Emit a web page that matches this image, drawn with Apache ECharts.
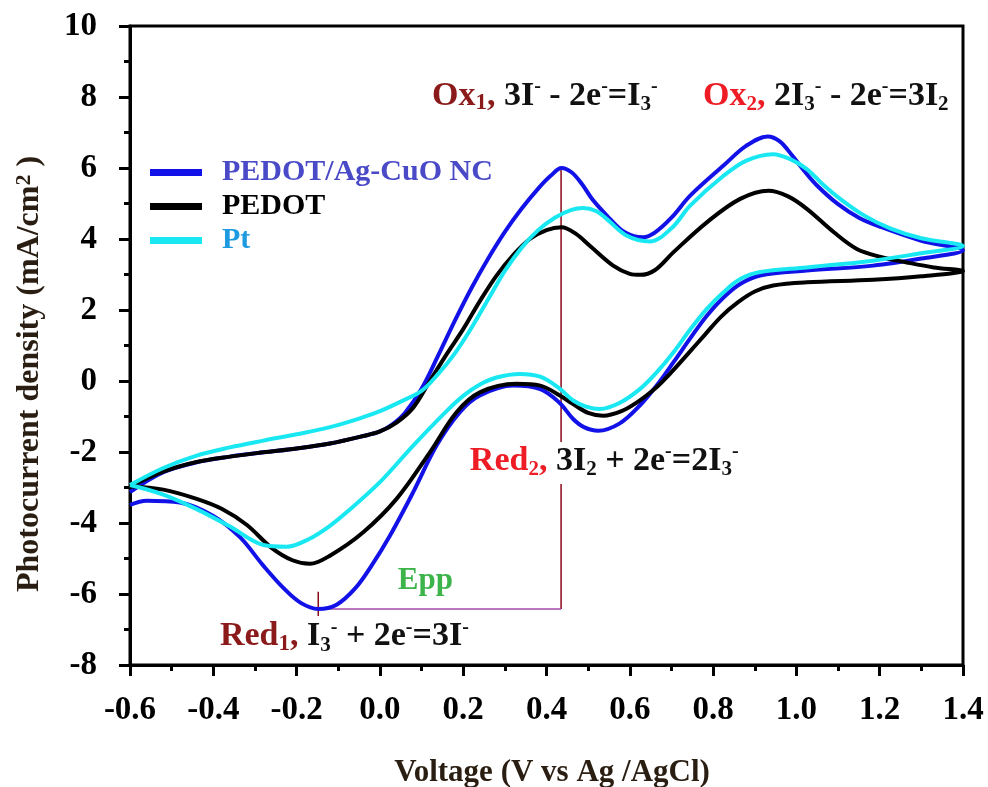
<!DOCTYPE html>
<html lang="en">
<head>
<meta charset="UTF-8">
<title>Cyclic voltammetry</title>
<script src="https://cdn.jsdelivr.net/npm/echarts@6/dist/echarts.min.js"></script>
</head>
<body style="margin:0;background:#fff">
<div id="main" style="width:988px;height:787px;"></div>
<script>
// legend names, in drawing order
const seriesNames = ['PEDOT/Ag-CuO NC', 'PEDOT', 'Pt'];

// [voltage V vs Ag/AgCl, current density mA/cm2], anodic sweep then cathodic sweep
const agCuO = [
  [-0.6,-3.13],[-0.52,-2.57],[-0.44,-2.29],[-0.36,-2.13],[-0.28,-2.01],[-0.2,-1.9],[-0.12,-1.76],[-0.04,-1.55],
  [0,-1.42],[0.03,-1.22],[0.06,-0.9],[0.1,-0.22],[0.14,0.72],[0.18,1.7],[0.22,2.62],[0.26,3.45],[0.3,4.2],
  [0.34,4.85],[0.38,5.42],[0.41,5.78],[0.436,6.0],[0.46,5.88],[0.485,5.55],[0.51,5.12],[0.545,4.66],[0.58,4.25],
  [0.61,4.08],[0.632,4.05],[0.66,4.18],[0.7,4.6],[0.745,5.22],[0.825,6.07],[0.88,6.63],[0.931,6.89],[0.96,6.75],
  [0.99,6.35],[1.02,5.9],[1.05,5.5],[1.1,4.98],[1.15,4.6],[1.2,4.35],[1.3,3.95],[1.4,3.68],
  [1.3,3.45],[1.184,3.25],[1.025,3.11],[0.913,2.97],[0.865,2.73],[0.825,2.35],[0.785,1.84],[0.745,1.2],[0.705,0.53],
  [0.665,-0.12],[0.624,-0.69],[0.575,-1.2],[0.524,-1.4],[0.49,-1.3],[0.464,-1.07],[0.43,-0.6],[0.385,-0.23],
  [0.32,-0.13],[0.24,-0.41],[0.192,-0.88],[0.136,-1.82],[0.08,-3.13],[0.024,-4.36],[-0.02,-5.2],[-0.06,-5.85],
  [-0.104,-6.3],[-0.148,-6.42],[-0.19,-6.25],[-0.23,-5.85],[-0.28,-5.2],[-0.336,-4.4],[-0.4,-3.8],[-0.48,-3.42],
  [-0.56,-3.37],[-0.6,-3.49]
];
const pedot = [
  [-0.6,-2.97],[-0.52,-2.55],[-0.44,-2.28],[-0.36,-2.13],[-0.28,-2.01],[-0.2,-1.9],[-0.12,-1.76],[-0.04,-1.55],
  [0,-1.42],[0.04,-1.17],[0.08,-0.75],[0.12,0.0],[0.16,0.75],[0.2,1.46],[0.24,2.25],[0.28,2.97],[0.32,3.55],
  [0.36,4.0],[0.4,4.25],[0.436,4.33],[0.47,4.15],[0.504,3.81],[0.56,3.25],[0.6,3.02],[0.625,2.99],[0.66,3.12],
  [0.705,3.63],[0.785,4.47],[0.865,5.13],[0.933,5.36],[0.98,5.2],[1.025,4.85],[1.09,4.19],[1.145,3.72],[1.2,3.5],
  [1.265,3.34],[1.33,3.2],[1.4,3.1],
  [1.3,2.95],[1.184,2.85],[1.025,2.78],[0.944,2.69],[0.9,2.52],[0.86,2.22],[0.82,1.82],[0.78,1.3],[0.74,0.77],
  [0.7,0.25],[0.66,-0.22],[0.62,-0.58],[0.58,-0.85],[0.536,-0.98],[0.5,-0.9],[0.464,-0.65],[0.432,-0.41],[0.385,-0.13],
  [0.328,-0.08],[0.24,-0.32],[0.184,-0.88],[0.12,-2.01],[0.04,-3.32],[-0.04,-4.26],[-0.12,-4.92],[-0.168,-5.15],
  [-0.21,-5.05],[-0.26,-4.7],[-0.32,-4.05],[-0.38,-3.6],[-0.44,-3.32],[-0.52,-3.06],[-0.6,-2.97]
];
const pt = [
  [-0.6,-2.93],[-0.52,-2.45],[-0.44,-2.1],[-0.36,-1.87],[-0.28,-1.68],[-0.2,-1.5],[-0.12,-1.3],[-0.04,-1.02],
  [0,-0.85],[0.05,-0.58],[0.1,-0.28],[0.14,0.2],[0.18,0.78],[0.22,1.5],[0.26,2.3],[0.3,3.1],[0.34,3.75],
  [0.38,4.25],[0.42,4.6],[0.46,4.82],[0.488,4.87],[0.52,4.78],[0.545,4.56],[0.593,4.09],[0.648,3.93],[0.7,4.3],
  [0.745,4.94],[0.825,5.78],[0.88,6.21],[0.944,6.39],[0.985,6.25],[1.025,5.97],[1.065,5.52],[1.105,5.13],[1.16,4.68],
  [1.225,4.3],[1.3,4.02],[1.4,3.8],
  [1.3,3.6],[1.184,3.39],[1.025,3.2],[0.913,3.07],[0.865,2.87],[0.825,2.5],[0.785,2.03],[0.745,1.45],[0.705,0.81],
  [0.665,0.25],[0.624,-0.23],[0.575,-0.62],[0.528,-0.79],[0.495,-0.72],[0.464,-0.55],[0.43,-0.2],[0.385,0.12],
  [0.336,0.2],[0.28,0.1],[0.24,-0.1],[0.2,-0.42],[0.16,-0.85],[0.08,-1.82],[0,-2.85],[-0.08,-3.7],[-0.12,-4.08],
  [-0.17,-4.45],[-0.224,-4.67],[-0.28,-4.62],[-0.36,-4.1],[-0.44,-3.61],[-0.52,-3.2],[-0.6,-2.93]
];

// Epp bracket: Ox1 peak and Red1 peak of PEDOT/Ag-CuO NC
const oxPeak = [0.435, 6.0];
const redPeak = [-0.148, -6.42];
const gapJ = [-1.72, -2.9];      // where the vertical line breaks for the Red2 label
const tickJ = [-5.94, -6.62];

const colors = ['#1212e8', '#000000', '#19e8f2'];
const legendColors = ['#4a4ac8', '#000000', '#1e9be0'];
const serif = 'Liberation Serif';

const chart = echarts.init(document.getElementById('main'));

const curves = [agCuO, pedot, pt].map((d, i) => ({
  name: seriesNames[i],
  type: 'line',
  data: d,
  smooth: 0.35,
  showSymbol: false,
  lineStyle: { color: colors[i], width: 4 },
  itemStyle: { color: colors[i] },
  z: 3
}));

function segment(data, color) {
  return {
    type: 'line', data: data, showSymbol: false, silent: true,
    lineStyle: { color: color, width: 1.5 }, z: 2
  };
}

const option = {
  animation: false,
  grid: { left: 130, right: 25, top: 26, bottom: 122, show: true, borderColor: '#000', borderWidth: 3 },
  xAxis: {
    type: 'value', min: -0.6, max: 1.4, interval: 0.2,
    axisLine: { onZero: false, lineStyle: { color: '#000', width: 3 } },
    axisTick: { length: 11, lineStyle: { color: '#000', width: 3 } },
    minorTick: { show: true, splitNumber: 2, length: 6, lineStyle: { color: '#000', width: 3 } },
    splitLine: { show: false },
    axisLabel: {
      color: '#000', fontFamily: serif, fontWeight: 'bold', fontSize: 33, margin: 29,
      formatter: v => v.toFixed(1)
    }
  },
  yAxis: {
    type: 'value', min: -8, max: 10, interval: 2,
    axisLine: { onZero: false, lineStyle: { color: '#000', width: 3 } },
    axisTick: { length: 11, lineStyle: { color: '#000', width: 3 } },
    minorTick: { show: true, splitNumber: 2, length: 6, lineStyle: { color: '#000', width: 3 } },
    splitLine: { show: false },
    axisLabel: { color: '#000', fontFamily: serif, fontWeight: 'bold', fontSize: 33, margin: 33 }
  },
  legend: {
    orient: 'vertical', left: 145, top: 152, itemGap: 3,
    icon: 'rect', itemWidth: 52, itemHeight: 7,
    data: seriesNames.map((n, i) => ({ name: n, textStyle: { color: legendColors[i] } })),
    formatter: n => '{g|}' + n,
    textStyle: {
      fontFamily: serif, fontWeight: 'bold', fontSize: 30, lineHeight: 31,
      rich: { g: { width: 15 } }
    }
  },
  series: curves.concat([
    segment([oxPeak, [oxPeak[0], gapJ[0]]], '#8b0a1a'),
    segment([[oxPeak[0], gapJ[1]], [oxPeak[0], redPeak[1]]], '#8b0a1a'),
    segment([[oxPeak[0], redPeak[1]], redPeak], '#a24aa8'),
    segment([[redPeak[0], tickJ[0]], [redPeak[0], tickJ[1]]], '#8b0a1a')
  ])
};
chart.setOption(option);

// text annotations, anchored at data coordinates (left edge, vertical middle)
const big = { fontFamily: serif, fontWeight: 'bold', fontSize: 34, lineHeight: 38 };
function st(color, size, align) {
  return Object.assign({}, big, { fill: color }, size ? { fontSize: size, lineHeight: size, verticalAlign: align } : {});
}
const rich = {
  dr: st('#8b1a1a'), drs: st('#8b1a1a', 23, 'bottom'),
  r: st('#ee1c25'), rs: st('#ee1c25', 21, 'bottom'),
  k: st('#111'), ksub: st('#111', 21, 'bottom'), ksup: st('#111', 20, 'top'),
  g: st('#3cb44a', 31)
};
const notes = [
  { at: [0.125, 8.03], text: '{dr|Ox}{drs|1}{dr|, }{k|3I}{ksup|-}{k| - 2e}{ksup|-}{k|=I}{ksub|3}{ksup|-}' },
  { at: [0.776, 8.03], text: '{r|Ox}{rs|2}{r|, }{k|2I}{ksub|3}{ksup|-}{k| - 2e}{ksup|-}{k|=3I}{ksub|2}' },
  { at: [0.216, -2.25], text: '{r|Red}{rs|2}{r|, }{k|3I}{ksub|2}{k| + 2e}{ksup|-}{k|=2I}{ksub|3}{ksup|-}' },
  { at: [-0.384, -7.2], text: '{dr|Red}{drs|1}{dr|, }{k|I}{ksub|3}{ksup|-}{k| + 2e}{ksup|-}{k|=3I}{ksup|-}' },
  { at: [0.043, -5.63], text: '{g|Epp}' }
];
const graphic = notes.map(n => {
  const p = chart.convertToPixel({ gridIndex: 0 }, n.at);
  return {
    type: 'text', x: p[0], y: p[1], z: 10,
    style: { text: n.text, rich: rich, textAlign: 'left', textVerticalAlign: 'middle' }
  };
});
const titleFont = { fontFamily: serif, fontWeight: 'bold', fontSize: 31, lineHeight: 33, fill: '#2a1e12' };
graphic.push({
  type: 'text', x: 552, y: 773, z: 10,
  style: Object.assign({ text: 'Voltage (V vs Ag /AgCl)', textAlign: 'center', textVerticalAlign: 'middle' }, titleFont)
});
graphic.push({
  type: 'text', x: 30, y: 374, rotation: Math.PI / 2, z: 10,
  style: {
    text: '{t|Photocurrent density (mA/cm}{s|2}{t| )}', textAlign: 'center', textVerticalAlign: 'middle',
    rich: { t: Object.assign({}, titleFont, { fontSize: 32 }), s: Object.assign({}, titleFont, { fontSize: 22, lineHeight: 22, verticalAlign: 'top' }) }
  }
});
chart.setOption({ graphic: graphic });
</script>
</body>
</html>
